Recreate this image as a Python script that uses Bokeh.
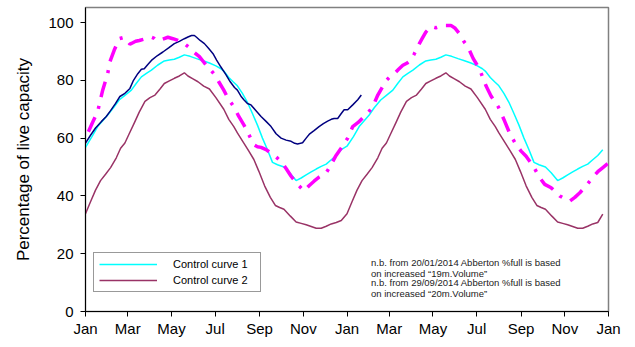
from bokeh.plotting import figure
from bokeh.models import Range1d, FixedTicker, Legend, LegendItem, Label
from bokeh.embed import file_html
from bokeh.resources import INLINE

# ---- data (x = days since 1 Jan of first year) ----
month_ticks = [0, 59, 120, 181, 243, 304, 365, 424, 485, 546, 608, 669, 730]
month_labels = ["Jan", "Mar", "May", "Jul", "Sep", "Nov", "Jan", "Mar", "May", "Jul", "Sep", "Nov", "Jan"]
y_ticks = [0, 20, 40, 60, 80, 100]

cc1_days = [0, 9, 17, 24, 31, 39, 47, 55, 64, 71, 78, 85, 92, 101, 110, 117, 124, 131, 138, 146, 155, 164, 173,
            182, 189, 193, 200, 206, 212, 219, 226, 233, 240, 247, 254, 261, 268, 277, 285, 294, 301, 308, 315,
            322, 329, 336, 343, 350, 357,
            365, 374, 382, 389, 396, 403, 412, 420, 429, 436, 443, 450, 457, 466, 475, 482, 489, 496, 503, 511,
            520, 529, 538, 547, 554, 558, 565, 571, 577, 584, 591, 598, 605, 612, 619, 626, 633, 642, 650, 659,
            666, 673, 680, 687, 694, 701, 708, 715, 722, 730]
cc1_vals = [56.8, 60.5, 64.0, 66.0, 68.0, 70.5, 73.2, 74.8, 76.6, 79.0, 81.2, 82.4, 83.5, 85.3, 86.7, 87.0, 87.3,
            88.0, 88.8, 88.3, 87.5, 86.8, 86.0, 85.0, 84.0, 83.2, 81.0, 79.5, 78.1, 75.5, 72.4, 68.5, 64.5, 60.0,
            56.0, 51.6, 50.8, 50.0, 48.0, 45.3, 46.2, 47.3, 48.3, 49.3, 50.2, 51.0, 52.5, 54.0, 56.0,
            57.2, 60.5, 64.0, 66.0, 68.0, 70.5, 73.2, 74.8, 76.6, 79.0, 81.2, 82.4, 83.5, 85.3, 86.7, 87.0, 87.3,
            88.0, 88.8, 88.3, 87.5, 86.8, 86.0, 85.0, 84.0, 83.2, 81.0, 79.5, 78.1, 75.5, 72.4, 68.5, 64.5, 60.0,
            56.0, 51.6, 50.8, 50.0, 48.0, 45.3, 46.2, 47.3, 48.3, 49.3, 50.2, 51.0, 52.5, 54.0, 56.0]

cc2_days = [0, 7, 14, 21, 28, 35, 43, 49, 55, 61, 68, 75, 83, 90, 97, 104, 110, 117, 124, 131, 138, 143, 150,
            157, 165, 173, 182, 193, 200, 207, 212, 221, 228, 235, 242, 250, 258, 265, 271, 277, 286, 294, 301,
            308, 315, 322, 329, 336, 343, 350, 357,
            365, 372, 379, 386, 393, 400, 408, 414, 420, 426, 433, 440, 448, 455, 462, 469, 475, 482, 489, 496,
            503, 508, 515, 522, 530, 538, 547, 558, 565, 572, 577, 586, 593, 600, 607, 615, 623, 630, 636, 642,
            651, 659, 666, 673, 680, 687, 694, 701, 708, 715, 722, 730]
cc2_vals = [33.8, 38.0, 42.0, 45.3, 47.5, 49.8, 53.2, 56.5, 58.3, 61.5, 65.2, 69.0, 72.7, 74.0, 74.9, 77.0, 78.9,
            79.8, 80.7, 81.5, 82.6, 81.5, 80.5, 79.5, 78.0, 77.0, 74.0, 70.0, 66.5, 64.0, 61.8, 58.3, 55.5, 52.6,
            48.5, 43.5, 39.5, 36.7, 36.0, 35.4, 33.0, 31.0, 30.5, 30.0, 29.4, 28.8, 28.8, 29.5, 30.3, 30.8, 31.5,
            33.8, 38.0, 42.0, 45.3, 47.5, 49.8, 53.2, 56.5, 58.3, 61.5, 65.2, 69.0, 72.7, 74.0, 74.9, 77.0, 78.9,
            79.8, 80.7, 81.5, 82.6, 81.5, 80.5, 79.5, 78.0, 77.0, 74.0, 70.0, 66.5, 64.0, 61.8, 58.3, 55.5, 52.6,
            48.5, 43.5, 39.5, 36.7, 36.0, 35.4, 33.0, 31.0, 30.5, 30.0, 29.4, 28.8, 28.8, 29.5, 30.3, 30.8, 33.7]

actual_days = [0, 7, 14, 22, 29, 35, 42, 48, 55, 62, 67, 73, 78, 82, 87, 92, 100, 108, 116, 124, 131, 138, 143,
               148, 152, 155, 160, 166, 172, 178, 183, 189, 196, 202, 208, 212, 217, 221, 226, 231, 238, 245, 252,
               259, 266, 273, 280, 287, 292, 296, 300, 303, 308, 313, 319, 326, 332, 338, 343, 347, 352, 357, 361,
               366, 373, 380, 385]
actual_vals = [58.3, 61.0, 63.5, 65.7, 67.5, 69.5, 72.0, 74.4, 75.5, 77.2, 80.0, 82.3, 83.8, 84.0, 85.5, 86.9,
               88.5, 89.8, 91.2, 92.7, 93.5, 94.4, 95.0, 95.5, 95.5, 94.9, 93.8, 92.7, 91.0, 89.2, 87.0, 84.6,
               82.0, 79.5, 77.5, 76.6, 74.5, 73.3, 72.0, 71.5, 69.5, 67.5, 65.8, 64.0, 61.5, 60.0, 59.3, 58.9,
               58.2, 58.0, 58.2, 58.4, 60.0, 61.5, 62.6, 64.0, 65.0, 65.9, 66.5, 66.8, 66.8, 68.5, 69.8, 69.8,
               71.5, 73.3, 74.9]

proj_days = [4, 10, 17, 24, 31, 34, 40, 47, 54, 62, 70, 75, 81, 87, 92, 96, 99, 107, 115, 122, 129, 138, 144,
             150, 159, 166, 173, 180, 186, 193, 200, 207, 214, 221, 228, 235, 240, 245, 252, 259, 266, 273, 280,
             287, 296, 300, 305, 312, 319, 326, 336, 341, 349, 357, 366, 373, 381, 389, 395, 401, 408, 414, 420,
             426, 431, 437, 443, 449, 454, 459, 466, 470, 475, 482, 489, 494, 502, 510, 516, 522, 528, 534, 541,
             550, 559, 566, 576, 585, 592, 601, 608, 615, 625, 634, 641, 650, 656, 662, 669, 676, 683, 690, 697,
             704, 710, 716, 723, 730]
proj_vals = [62.2, 65.5, 69.2, 76.6, 82.3, 86.4, 90.4, 94.4, 94.9, 92.5, 93.5, 93.8, 94.2, 94.4, 94.9, 94.5,
             93.8, 94.2, 94.9, 94.4, 93.8, 92.7, 91.5, 90.0, 88.2, 86.0, 84.1, 82.0, 79.5, 76.6, 73.3, 70.9,
             67.5, 64.6, 61.2, 57.7, 57.0, 56.8, 56.0, 54.8, 53.5, 51.9, 49.5, 46.8, 44.0, 43.0, 41.7, 43.5,
             45.1, 46.5, 48.0, 50.0, 53.7, 56.6, 60.0, 64.0, 65.5, 67.5, 69.0, 70.9, 74.9, 77.5, 80.0, 81.5,
             82.3, 83.8, 85.2, 86.0, 86.9, 89.2, 92.7, 94.5, 96.7, 98.6, 98.2, 98.6, 99.0, 99.0, 98.0, 96.1,
             93.5, 91.4, 87.6, 83.9, 78.1, 74.6, 70.9, 65.9, 61.7, 57.7, 55.5, 53.7, 50.3, 46.3, 44.0, 42.8,
             41.5, 40.0, 39.0, 38.2, 39.5, 41.1, 43.0, 45.1, 47.0, 48.6, 50.0, 51.4]

legend_labels = ["Control curve 1", "Control curve 2"]
notes = ["n.b. from 20/01/2014  Abberton %full is based",
         "on increased \u201c19m.Volume\u201d",
         "n.b. from 29/09/2014  Abberton %full is based",
         "on increased \u201c20m.Volume\u201d"]

FONT = "Liberation Sans"

p = figure(width=627, height=339, output_backend="svg", toolbar_location=None,
           x_range=Range1d(0, 730), y_range=Range1d(0, 105.2),
           min_border_left=85, min_border_right=19, min_border_top=7, min_border_bottom=26,
           background_fill_color="white", border_fill_color="white")
p.xgrid.visible = False
p.ygrid.visible = False
p.outline_line_color = "#808080"
p.outline_line_width = 1.5

for ax in (p.xaxis[0], p.yaxis[0]):
    ax.axis_line_color = "black"
    ax.axis_line_width = 1
    ax.major_tick_line_color = "black"
    ax.major_tick_in = 0
    ax.major_tick_out = 5
    ax.minor_tick_line_color = None
    ax.major_label_text_font = FONT
    ax.major_label_text_font_size = "15px"
    ax.major_label_text_color = "black"

p.xaxis.ticker = FixedTicker(ticks=month_ticks)
p.xaxis.major_label_overrides = {t: l for t, l in zip(month_ticks, month_labels)}
p.xaxis.major_label_standoff = 3
p.yaxis.ticker = FixedTicker(ticks=y_ticks)
p.yaxis.major_label_standoff = 7
p.yaxis.axis_label = "Percentage of live capacity"
p.yaxis.axis_label_text_font = FONT
p.yaxis.axis_label_text_font_size = "17px"
p.yaxis.axis_label_text_font_style = "normal"
p.yaxis.axis_label_text_color = "black"
p.yaxis.axis_label_standoff = 12

r1 = p.line(cc1_days, cc1_vals, line_color="#00FFFF", line_width=1.5)
r2 = p.line(cc2_days, cc2_vals, line_color="#993366", line_width=1.5)
r3 = p.line(actual_days, actual_vals, line_color="#000080", line_width=1.5)
r4 = p.line(proj_days, proj_vals, line_color="#FF00FF", line_width=3.5, line_dash="16 9 3 9")

legend = Legend(items=[LegendItem(label=legend_labels[0], renderers=[r1]),
                       LegendItem(label=legend_labels[1], renderers=[r2])],
                location=(8, 19), orientation="vertical",
                label_text_font=FONT, label_text_font_size="11px", label_text_color="black",
                glyph_width=58, glyph_height=12, label_height=12, label_width=82, label_standoff=16,
                padding=5, spacing=4, margin=0,
                border_line_color="#333333", border_line_width=1,
                background_fill_color="white", background_fill_alpha=1)
p.add_layout(legend)

note_y = [16.8, 13.3, 9.9, 6.4]
for txt, yy in zip(notes, note_y):
    p.add_layout(Label(x=398.5, y=yy, text=txt, text_font=FONT, text_font_size="9.5px",
                       text_color="#222222", text_baseline="middle", text_align="left"))

open("out.html", "w").write(file_html(p, INLINE))
